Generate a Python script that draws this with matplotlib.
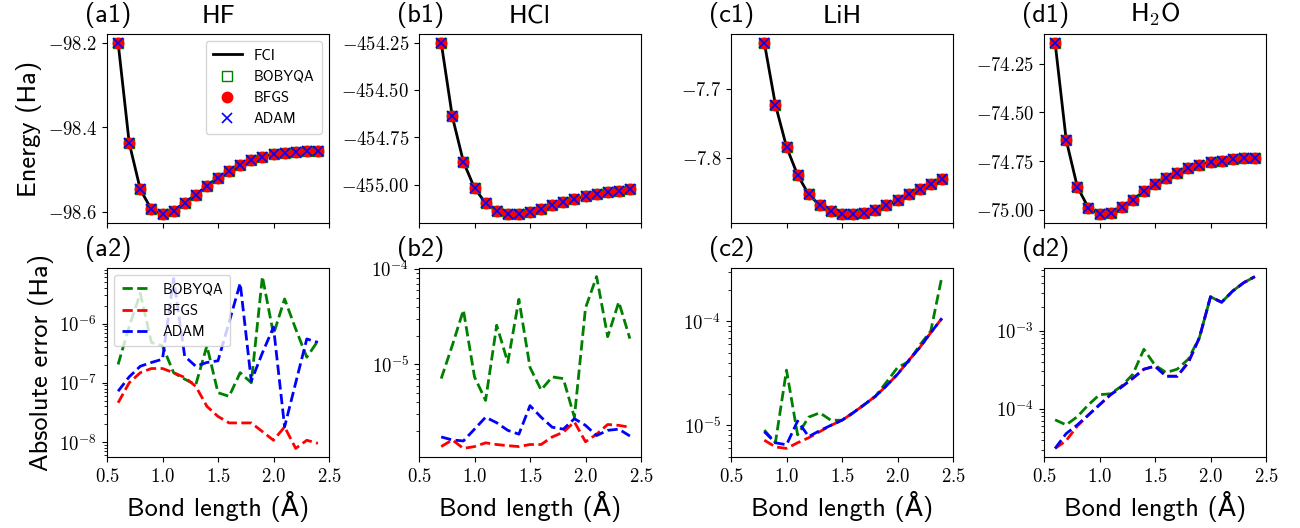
import numpy as np
import matplotlib
matplotlib.use("Agg")
import matplotlib.pyplot as plt
from matplotlib.ticker import FuncFormatter, FixedLocator, LogLocator

plt.rcParams['mathtext.fontset'] = 'cm'
TXT = ['cmss10', 'DejaVu Sans']

# ---------------- data ----------------
x_hf = [0.6, 0.7, 0.8, 0.9, 1.0, 1.1, 1.2, 1.3, 1.4, 1.5, 1.6, 1.7, 1.8, 1.9, 2.0, 2.1, 2.2, 2.3, 2.4]
x_hcl = [0.7, 0.8, 0.9, 1.0, 1.1, 1.2, 1.3, 1.4, 1.5, 1.6, 1.7, 1.8, 1.9, 2.0, 2.1, 2.2, 2.3, 2.4]
x_lih = [0.8, 0.9, 1.0, 1.1, 1.2, 1.3, 1.4, 1.5, 1.6, 1.7, 1.8, 1.9, 2.0, 2.1, 2.2, 2.3, 2.4]
x_h2o = [0.6, 0.7, 0.8, 0.9, 1.0, 1.1, 1.2, 1.3, 1.4, 1.5, 1.6, 1.7, 1.8, 1.9, 2.0, 2.1, 2.2, 2.3, 2.4]

e_hf = [-98.200, -98.437, -98.547, -98.594, -98.606, -98.597, -98.579, -98.559, -98.539, -98.519,
        -98.504, -98.490, -98.478, -98.470, -98.464, -98.460, -98.458, -98.457, -98.456]
e_hcl = [-454.250, -454.640, -454.879, -455.018, -455.097, -455.141, -455.157, -455.155, -455.143,
         -455.127, -455.107, -455.092, -455.076, -455.062, -455.051, -455.040, -455.032, -455.025]
e_lih = [-7.633, -7.723, -7.784, -7.825, -7.853, -7.869, -7.877, -7.882, -7.882, -7.880, -7.875,
         -7.869, -7.861, -7.853, -7.845, -7.838, -7.830]
e_h2o = [-74.142, -74.642, -74.882, -74.990, -75.024, -75.015, -74.985, -74.949, -74.906, -74.870,
         -74.837, -74.810, -74.786, -74.769, -74.755, -74.748, -74.741, -74.736, -74.735]

# absolute errors (Ha)
hf_bobyqa = [2.04e-7, 8.9e-7, 3.24e-6, 4.8e-7, 4.2e-7, 1.48e-7, 1.15e-7, 9.3e-8, 4.2e-7, 6.8e-8,
             5.9e-8, 1.48e-7, 1.0e-7, 6.2e-6, 6.6e-7, 2.6e-6, 8.1e-7, 2.7e-7, 5.1e-7]
hf_bfgs = [4.6e-8, 1.0e-7, 1.48e-7, 1.74e-7, 1.74e-7, 1.48e-7, 1.23e-7, 8.7e-8, 4.0e-8, 2.7e-8,
           2.1e-8, 2.1e-8, 2.1e-8, 1.5e-8, 1.07e-8, 1.8e-8, 7.8e-9, 1.07e-8, 9.5e-9]
hf_adam = [7.2e-8, 1.26e-7, 1.9e-7, 2.2e-7, 2.5e-7, 5.75e-6, 2.8e-7, 1.9e-7, 2.2e-7, 2.35e-7,
           1.05e-6, 4.8e-6, 1.07e-7, 3.2e-7, 8.7e-7, 1.8e-8, 1.0e-7, 5.5e-7, 4.8e-7]

hcl_bobyqa = [7.1e-6, 1.58e-5, 3.7e-5, 7.4e-6, 4.2e-6, 2.57e-5, 1.05e-5, 4.8e-5, 9.3e-6, 5.4e-6,
              7.4e-6, 7.1e-6, 2.8e-6, 3.9e-5, 8.3e-5, 1.95e-5, 4.5e-5, 1.86e-5]
hcl_bfgs = [1.38e-6, 1.62e-6, 1.32e-6, 1.38e-6, 1.51e-6, 1.45e-6, 1.41e-6, 1.38e-6, 1.45e-6,
            1.45e-6, 1.74e-6, 1.95e-6, 2.5e-6, 1.55e-6, 1.86e-6, 2.35e-6, 2.3e-6, 2.2e-6]
hcl_adam = [1.74e-6, 1.62e-6, 1.58e-6, 2.1e-6, 2.8e-6, 2.45e-6, 2.04e-6, 1.86e-6, 3.7e-6, 2.8e-6,
            2.2e-6, 2.1e-6, 2.7e-6, 2.3e-6, 1.8e-6, 2.04e-6, 2.1e-6, 1.78e-6]

lih_bobyqa = [9.0e-6, 6.8e-6, 3.4e-5, 8.1e-6, 1.2e-5, 1.32e-5, 1.12e-5, 1.12e-5, 1.32e-5, 1.58e-5,
              1.9e-5, 2.6e-5, 3.6e-5, 4.1e-5, 5.9e-5, 8.1e-5, 2.7e-4]
lih_bfgs = [7.2e-6, 6.2e-6, 6.0e-6, 6.8e-6, 7.6e-6, 8.7e-6, 1.0e-5, 1.12e-5, 1.32e-5, 1.58e-5,
            1.9e-5, 2.4e-5, 3.1e-5, 4.2e-5, 5.6e-5, 7.8e-5, 1.07e-4]
lih_adam = [8.7e-6, 6.8e-6, 6.5e-6, 1.1e-5, 7.8e-6, 8.9e-6, 1.0e-5, 1.12e-5, 1.32e-5, 1.58e-5,
            1.9e-5, 2.4e-5, 3.1e-5, 4.2e-5, 5.6e-5, 7.8e-5, 1.07e-4]

h2o_bobyqa = [7.2e-5, 6.2e-5, 7.9e-5, 1.12e-4, 1.51e-4, 1.55e-4, 1.95e-4, 2.75e-4, 5.75e-4, 3.6e-4,
              2.9e-4, 3.2e-4, 4.3e-4, 8.1e-4, 2.7e-3, 2.3e-3, 3.2e-3, 4.1e-3, 4.9e-3]
h2o_bfgs = [3.1e-5, 3.9e-5, 6.0e-5, 8.3e-5, 1.12e-4, 1.51e-4, 1.9e-4, 2.45e-4, 3.2e-4, 3.5e-4,
            2.6e-4, 2.6e-4, 3.9e-4, 8.1e-4, 2.7e-3, 2.3e-3, 3.2e-3, 4.1e-3, 4.9e-3]
h2o_adam = [3.1e-5, 4.8e-5, 6.2e-5, 8.3e-5, 1.12e-4, 1.51e-4, 1.9e-4, 2.45e-4, 3.2e-4, 3.5e-4,
            2.6e-4, 2.6e-4, 3.9e-4, 8.1e-4, 2.7e-3, 2.3e-3, 3.2e-3, 4.1e-3, 4.9e-3]

molecules = ['HF', 'HCl', 'LiH', r'H$_2$O']
xs = [x_hf, x_hcl, x_lih, x_h2o]
energies = [e_hf, e_hcl, e_lih, e_h2o]
err_bobyqa = [hf_bobyqa, hcl_bobyqa, lih_bobyqa, h2o_bobyqa]
err_bfgs = [hf_bfgs, hcl_bfgs, lih_bfgs, h2o_bfgs]
err_adam = [hf_adam, hcl_adam, lih_adam, h2o_adam]
energy_ticks = [[-98.6, -98.4, -98.2],
                [-455.00, -454.75, -454.50, -454.25],
                [-7.8, -7.7],
                [-75.00, -74.75, -74.50, -74.25]]
energy_fmt = ['%.1f', '%.2f', '%.1f', '%.2f']
x_ticks = [0.5, 1.0, 1.5, 2.0, 2.5]
top_tags = ['(a1)', '(b1)', '(c1)', '(d1)']
bot_tags = ['(a2)', '(b2)', '(c2)', '(d2)']

# ---------------- figure ----------------
W, H = 1300, 528
fig = plt.figure(figsize=(W / 100, H / 100), dpi=100)
lefts = [107, 419, 731, 1044]
aw, ah = 222, 189
top_bottom = H - 223
bot_bottom = H - 457

TICK_FS = 13.5
LBL_FS = 19


def math_fmt(fmt):
    return FuncFormatter(lambda v, p: '$' + (fmt % v) + '$')


def log_fmt(v, p):
    e = np.log10(v)
    if abs(e - round(e)) < 1e-6:
        return r'$10^{%d}$' % int(round(e))
    return ''


for i in range(4):
    ax = fig.add_axes([lefts[i] / W, top_bottom / H, aw / W, ah / H])
    x = xs[i]
    ax.plot(x, energies[i], color='black', lw=2, label='FCI', zorder=2)
    ax.plot(x, energies[i], ls='none', marker='s', ms=7.5, mfc='none', mec='green', mew=1.0,
            label='BOBYQA', zorder=3)
    ax.plot(x, energies[i], ls='none', marker='o', ms=7.5, color='red', label='BFGS', zorder=4)
    ax.plot(x, energies[i], ls='none', marker='x', ms=7, mew=1.2, color='blue', label='ADAM', zorder=5)
    ax.set_xlim(0.5, 2.5)
    ax.xaxis.set_major_locator(FixedLocator(x_ticks))
    ax.set_xticklabels([])
    ax.yaxis.set_major_locator(FixedLocator(energy_ticks[i]))
    ax.yaxis.set_major_formatter(math_fmt(energy_fmt[i]))
    ax.tick_params(labelsize=TICK_FS)
    ax.text(-0.1, 1.03, top_tags[i], transform=ax.transAxes, ha='left', va='bottom',
            fontsize=LBL_FS, family=TXT)
    ax.text(0.5, 1.03, molecules[i], transform=ax.transAxes, ha='center', va='bottom',
            fontsize=LBL_FS, family=TXT)
    if i == 0:
        ax.set_ylabel('Energy (Ha)', fontsize=LBL_FS, family=TXT)
        ax.legend(loc='upper right', prop={'family': TXT, 'size': 10.5}, handlelength=2.0,
                  borderpad=0.5, labelspacing=0.5)

    bx = fig.add_axes([lefts[i] / W, bot_bottom / H, aw / W, ah / H])
    bx.plot(x, err_bobyqa[i], color='green', ls='--', lw=2, label='BOBYQA')
    bx.plot(x, err_bfgs[i], color='red', ls='--', lw=2, label='BFGS')
    bx.plot(x, err_adam[i], color='blue', ls='--', lw=2, label='ADAM')
    bx.set_yscale('log')
    bx.set_xlim(0.5, 2.5)
    bx.xaxis.set_major_locator(FixedLocator(x_ticks))
    bx.xaxis.set_major_formatter(math_fmt('%.1f'))
    bx.yaxis.set_major_locator(LogLocator(base=10))
    bx.yaxis.set_major_formatter(FuncFormatter(log_fmt))
    bx.yaxis.set_minor_formatter(FuncFormatter(lambda v, p: ''))
    bx.tick_params(labelsize=TICK_FS)
    bx.set_xlabel('Bond length (Å)', fontsize=LBL_FS, family=TXT)
    bx.text(-0.1, 1.03, bot_tags[i], transform=bx.transAxes, ha='left', va='bottom',
            fontsize=LBL_FS, family=TXT)
    if i == 0:
        bx.set_ylabel('Absolute error (Ha)', fontsize=LBL_FS, family=TXT)
        bx.legend(loc='upper left', prop={'family': TXT, 'size': 10.5}, handlelength=2.0,
                  borderpad=0.5, labelspacing=0.5)

fig.savefig('out.png', dpi=100)
